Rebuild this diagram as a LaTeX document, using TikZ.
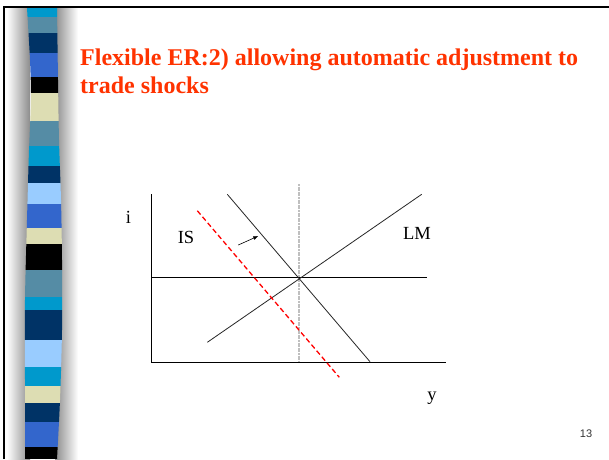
\documentclass[tikz,border=0pt]{standalone}
\usepackage{fontspec}
\setmainfont{Liberation Serif}
\newfontfamily\arialf{Liberation Sans}
\usetikzlibrary{arrows.meta}
\definecolor{titlered}{RGB}{255,51,0}
\definecolor{stcyan}{RGB}{0,153,204}
\definecolor{ststeel}{RGB}{85,140,165}
\definecolor{stnavy}{RGB}{0,51,102}
\definecolor{stroyal}{RGB}{51,102,204}
\definecolor{stbeige}{RGB}{221,221,179}
\definecolor{stlight}{RGB}{153,204,255}
\tikzset{
  curve/.style={draw=black!85, line width=0.8pt},
  axisline/.style={draw=black, line width=1pt},
  lbl/.style={font=\fontsize{18.5}{20}\selectfont, inner sep=0pt},
  titletxt/.style={font=\fontsize{24}{26}\selectfont\bfseries, text=titlered, anchor=base west, inner sep=0pt},
}
\begin{document}
\begin{tikzpicture}[x=1pt,y=-1pt]
\useasboundingbox (0,0) rectangle (609,459);
\fill[white] (0,0) rectangle (609,459);
% shadow around stripe bar
\shade[left color=white, right color=black!45] (7,8) rectangle (30,459);
\shade[left color=black!45, right color=white] (55,8) rectangle (78,459);
% stripe bar
\begin{scope}
\clip plot[smooth] coordinates {(27,8) (30,60) (31,100) (29,150) (27,220) (25,300) (25,380) (25,459)}
  -- plot[smooth] coordinates {(57,459) (60,400) (62,330) (62,260) (61,200) (59,140) (58,80) (57,8)} -- cycle;
\foreach \ya/\yb/\c in {8/17/stcyan, 17/33/ststeel, 33/53/stnavy, 53/77/stroyal, 77/93/black,
  93/121/stbeige, 121/146/ststeel, 146/166/stcyan, 166/183/stnavy, 183/204/stlight,
  204/228/stroyal, 228/244/stbeige, 244/270/black, 270/297/ststeel, 297/310/stcyan,
  310/340/stnavy, 340/367/stlight, 367/386/stcyan, 386/403/stbeige, 403/422/stnavy,
  422/447/stroyal, 447/459/black}
  \fill[\c] (20,\ya) rectangle (70,\yb);
\end{scope}
% slide border
\draw[black, line width=2pt] (4.3,459) -- (4.3,7) -- (609,7);
% title
\node[titletxt] (t1) at (80,65) {Flexible ER:2) allowing automatic adjustment to};
\node[titletxt] (t2) at (80,93) {trade shocks};
% chart coordinates
\coordinate (ytop) at (151.7,194);
\coordinate (orig) at (151.7,362);
\coordinate (xend) at (446,362);
\coordinate (hl) at (151.7,277);
\coordinate (hr) at (427,277);
\coordinate (vt) at (299.3,184);
\coordinate (vb) at (299.3,362);
\coordinate (lma) at (207.3,342.3);
\coordinate (lmb) at (421.7,194.3);
\coordinate (isa) at (227.3,194.3);
\coordinate (isb) at (370,361.7);
\coordinate (rda) at (197.3,210.7);
\coordinate (rdb) at (339.3,377.3);
\coordinate (ara) at (238.3,245);
\coordinate (arb) at (258.3,236);
% gray vertical
\draw[draw=black!25, line width=1.8pt, dash pattern=on 2pt off 0.6pt] (vt) -- (vb);
% axes
\draw[axisline] (ytop) -- (orig) -- (xend);
\draw[axisline] (hl) -- (hr);
% curves
\draw[curve] (lma) -- (lmb);
\draw[curve] (isa) -- (isb);
\draw[draw=red, line width=1.3pt, dash pattern=on 5pt off 3pt] (rda) -- (rdb);
\draw[draw=black, line width=0.6pt, -{Latex[length=5pt,width=4pt]}] (ara) -- (arb);
% labels
\node[lbl, anchor=base] (li) at (128.5,223) {i};
\node[lbl, anchor=base] (ly) at (432,400) {y};
\node[lbl, anchor=base] (lis) at (186,243) {IS};
\node[lbl, anchor=base] (llm) at (417,239) {LM};
\node[font=\arialf\fontsize{11}{13}\selectfont, text=black!80, inner sep=0pt] (pg) at (586,434) {13};
\end{tikzpicture}
\end{document}
